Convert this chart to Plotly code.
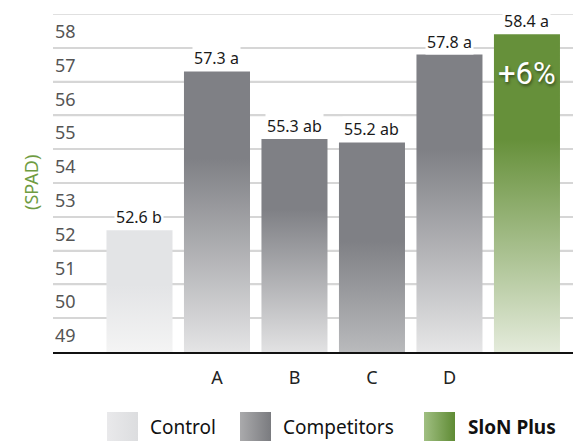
import plotly.graph_objects as go

# ---- data ----
categories = ["Control", "A", "B", "C", "D", "SloN Plus"]
values = [52.6, 57.3, 55.3, 55.2, 57.8, 58.4]
letters = ["b", "a", "ab", "ab", "a", "a"]
x_tick_labels = ["", "A", "B", "C", "D", ""]
y_tick_labels = ["49", "50", "51", "52", "53", "54", "55", "56", "57", "58"]
y_axis_title = "(SPAD)"
increase_label = "+6%"
legend_labels = ["Control", "Competitors", "<b>SloN Plus</b>"]

# ---- styles ----
W, H = 573, 444
BASE = 49
YMAX = 59
FONT = "Noto Sans"
DARK = "#7f8085"
GREEN = "#66903a"
bar_scales = [
    [[0, "#f4f4f4"], [0.55, "#e3e4e6"], [1, "#e3e4e6"]],
    [[0, "#e4e4e5"], [0.69, DARK], [1, DARK]],
    [[0, "#e2e2e3"], [0.67, DARK], [1, DARK]],
    [[0, "#b9babc"], [0.53, DARK], [1, DARK]],
    [[0, "#e6e6e7"], [0.68, DARK], [1, DARK]],
    [[0, "#e4ebdb"], [0.67, GREEN], [1, GREEN]],
]
legend_scales = [
    [[0, "#e9e9eb"], [1, "#dcdddf"]],
    [[0, "#aaaaac"], [1, "#7a7b7f"]],
    [[0, "#a0bf82"], [1, "#5f8b34"]],
]
HALF = 0.426

plot_left, plot_right = 53, W
plot_top, plot_bottom = 14, 352
x_lo = -1.116
x_hi = 5.594

fig = go.Figure()

# gridlines at the integer values between the labelled bands
grid_vals = [BASE + 1 + k for k in range(len(y_tick_labels))]
gx, gy = [], []
for g in grid_vals:
    gx += [x_lo, x_hi, None]
    gy += [g, g, None]
fig.add_trace(go.Scatter(x=gx, y=gy, mode="lines",
                         line=dict(color="#d6d6d6", width=1.5),
                         hoverinfo="skip", showlegend=False,
                         xaxis="x", yaxis="y"))

for i, (v, cs) in enumerate(zip(values, bar_scales)):
    fig.add_trace(go.Scatter(
        x=[i - HALF, i + HALF, i + HALF, i - HALF, i - HALF],
        y=[BASE, BASE, v, v, BASE],
        mode="lines", fill="toself", line=dict(width=0),
        fillgradient=dict(type="vertical", colorscale=cs, start=BASE, stop=v),
        hoverinfo="skip", showlegend=False, xaxis="x", yaxis="y",
    ))

# y tick labels sit in the band between gridlines
for k, lab in enumerate(y_tick_labels):
    fig.add_annotation(
        x=plot_left / W, y=BASE + 0.5 + k, xref="paper", yref="y", text=lab,
        showarrow=False, xanchor="left", yanchor="middle",
        font=dict(family=FONT, size=18, color="#555"),
    )

# value labels
for i, (v, l) in enumerate(zip(values, letters)):
    fig.add_annotation(
        x=i, y=v, xref="x", yref="y", text=f"{v:.1f} {l}",
        showarrow=False, yanchor="middle", yshift=13,
        font=dict(family=FONT, size=16, color="#1a1a1a"),
        bgcolor="white", borderpad=1,
    )

# +6%
fig.add_annotation(
    x=len(values) - 1, y=57.25, xref="x", yref="y", text=increase_label,
    showarrow=False, yanchor="middle",
    font=dict(family="Roboto", size=31, color="white",
              shadow="1px 2px 3px rgba(0,0,0,0.45)"),
)

# y title
fig.add_annotation(
    x=17 / W, y=(H - 183) / H, xref="paper", yref="paper", text=y_axis_title,
    showarrow=False, textangle=-90,
    font=dict(family=FONT, size=18, color="#6f9c42"),
)

# legend (pixel axes)
sw_x = [107, 240, 424]
txt_x = [148, 281, 466]
for sx, cs in zip(sw_x, legend_scales):
    fig.add_trace(go.Scatter(
        x=[sx, sx + 31, sx + 31, sx, sx], y=[412, 412, 441, 441, 412],
        mode="lines", fill="toself", line=dict(width=0),
        fillgradient=dict(type="horizontal", colorscale=cs),
        hoverinfo="skip", showlegend=False, xaxis="x3", yaxis="y3",
    ))
for tx, lab in zip(txt_x, legend_labels):
    fig.add_annotation(
        x=tx, y=427, xref="x3", yref="y3", text=lab, showarrow=False,
        xanchor="left", yanchor="middle",
        font=dict(family=FONT, size=19, color="#111"),
    )

ydom = [(H - plot_bottom) / H, (H - plot_top) / H]
fig.update_layout(
    width=W, height=H, margin=dict(l=0, r=0, t=0, b=0),
    paper_bgcolor="white", plot_bgcolor="white", showlegend=False,
    xaxis=dict(domain=[plot_left / W, 1], range=[x_lo, x_hi],
               tickmode="array", tickvals=list(range(len(categories))),
               ticktext=x_tick_labels, showgrid=False, zeroline=False,
               showline=True, linecolor="#111", linewidth=1.5,
               ticks="outside", ticklen=9, tickcolor="rgba(0,0,0,0)",
               tickfont=dict(family=FONT, size=18, color="#222"),
               anchor="y", fixedrange=True),
    yaxis=dict(domain=ydom, range=[BASE, YMAX], tickmode="linear",
               tick0=50, dtick=1, showgrid=True, gridcolor="#d6d6d6",
               gridwidth=1.5, showticklabels=False, zeroline=False,
               anchor="x", fixedrange=True),
    yaxis2=dict(overlaying="y", range=[BASE, YMAX], showticklabels=False,
                showgrid=False, zeroline=False, ticks="",
                anchor="x", side="left", fixedrange=True),
    xaxis3=dict(domain=[0, 1], range=[0, W], visible=False, anchor="y3",
                fixedrange=True),
    yaxis3=dict(domain=[0, (H - plot_bottom - 1) / H], range=[H, plot_bottom + 1],
                visible=False, anchor="x3", fixedrange=True),
)

fig.write_html("out.html")
